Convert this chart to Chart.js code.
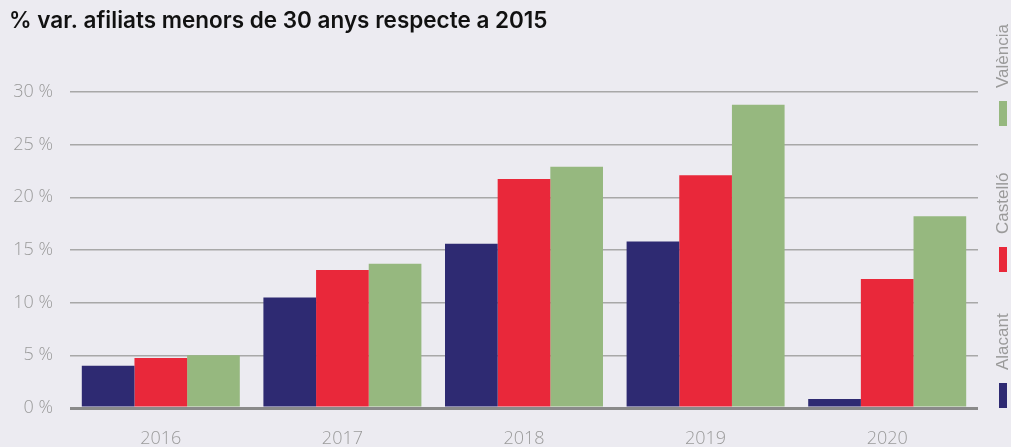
<!DOCTYPE html>
<html>
<head>
<meta charset="utf-8">
<script src="https://cdn.jsdelivr.net/npm/chart.js@4/dist/chart.umd.min.js"></script>
<style>
  html, body { margin: 0; padding: 0; background: #ecebf1; }
  #wrap { width: 1011px; height: 447px; position: relative; }
</style>
</head>
<body>
<div id="wrap"><canvas id="graf"></canvas></div>
<script>
const anys = ["2016", "2017", "2018", "2019", "2020"];
const alacant = [4.0, 10.5, 15.6, 15.8, 0.85];
const castello = [4.75, 13.1, 21.75, 22.1, 12.25];
const valencia = [5.0, 13.7, 22.9, 28.8, 18.2];
const titol = "% var. afiliats menors de 30 anys respecte a 2015";

const colors = { alacant: "#2e2a72", castello: "#e9283a", valencia: "#96b87f" };
const gris = "#9a9a9a";

// llegenda vertical a la dreta
const llegendaVertical = {
  id: "llegendaVertical",
  afterDraw(chart) {
    const ctx = chart.ctx;
    const x = 1003;
    const items = [
      { nom: "València", color: colors.valencia, base: 126 },
      { nom: "Castelló", color: colors.castello, base: 272 },
      { nom: "Alacant", color: colors.alacant, base: 408 }
    ];
    ctx.save();
    items.forEach(it => {
      ctx.fillStyle = it.color;
      ctx.fillRect(x - 4, it.base - 25, 8, 25);
      ctx.save();
      ctx.translate(x, it.base - 38);
      ctx.rotate(-Math.PI / 2);
      ctx.fillStyle = gris;
      ctx.font = "300 17px 'Liberation Sans', Arial, sans-serif";
      ctx.textAlign = "left";
      ctx.textBaseline = "middle";
      ctx.fillText(it.nom, 0, 0);
      ctx.restore();
    });
    ctx.restore();
  }
};

new Chart(document.getElementById("graf").getContext("2d"), {
  type: "bar",
  data: {
    labels: anys,
    datasets: [
      { label: "Alacant", data: alacant, backgroundColor: colors.alacant },
      { label: "Castelló", data: castello, backgroundColor: colors.castello },
      { label: "València", data: valencia, backgroundColor: colors.valencia }
    ]
  },
  options: {
    responsive: true,
    maintainAspectRatio: false,
    animation: false,
    layout: { padding: { left: 9, right: 33, top: 0, bottom: 0 } },
    datasets: { bar: { barPercentage: 1, categoryPercentage: 0.87 } },
    scales: {
      y: {
        min: 0,
        max: 30,
        afterFit: axis => { axis.width = 61; },
        ticks: {
          stepSize: 5,
          color: gris,
          padding: 17,
          font: { family: "Open Sans", size: 18, weight: "300" },
          callback: v => v + " %"
        },
        grid: {
          drawTicks: false,
          color: c => c.tick && c.tick.value === 0 ? "#8a8a8a" : "#a8a8a8",
          lineWidth: c => c.tick && c.tick.value === 0 ? 3 : 1.5
        },
        border: { display: false }
      },
      x: {
        afterFit: axis => { axis.height = 39; },
        ticks: {
          color: gris,
          padding: 20,
          font: { family: "Open Sans", size: 18, weight: "300" }
        },
        grid: { display: false, drawTicks: false },
        border: { display: false }
      }
    },
    plugins: {
      legend: { display: false },
      tooltip: { enabled: false },
      title: {
        display: true,
        text: titol,
        align: "start",
        color: "#111",
        font: { family: "Inter", size: 22.5, weight: "600" },
        padding: { top: 8, bottom: 57 }
      }
    }
  },
  plugins: [llegendaVertical]
});
</script>
</body>
</html>
